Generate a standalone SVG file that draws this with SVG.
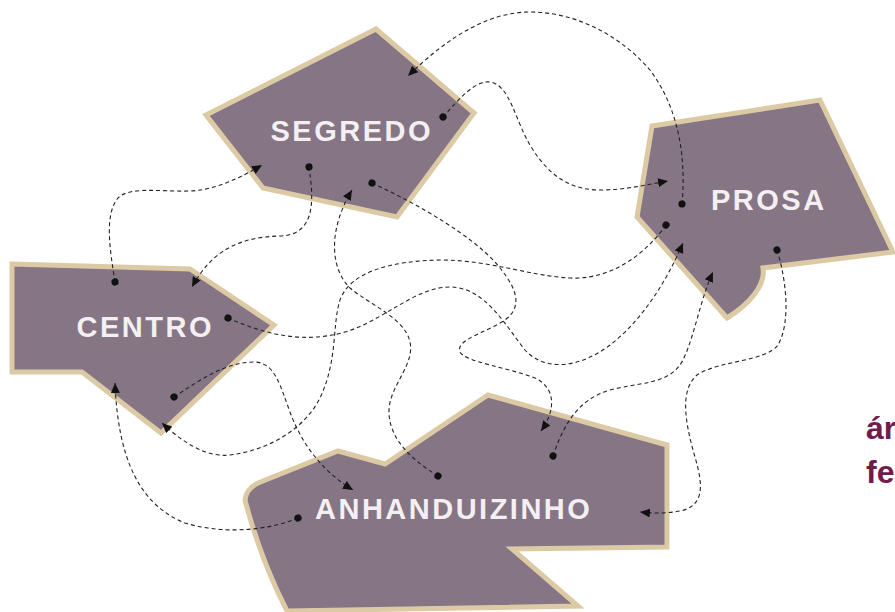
<svg xmlns="http://www.w3.org/2000/svg" width="895" height="612" viewBox="0 0 895 612">
<defs>
<style>
.shape{fill:#857585;stroke:#dccaa5;stroke-width:5;stroke-linejoin:miter}
.lbl{font-family:"Liberation Sans",Arial,sans-serif;font-weight:bold;font-size:29px;letter-spacing:2.5px;fill:#f4f0f1}
.con{fill:none;stroke:#222;stroke-width:1.1;stroke-dasharray:4 3;marker-start:url(#dot);marker-end:url(#arr)}
.side{font-family:"Liberation Sans",Arial,sans-serif;font-weight:bold;font-size:32px;fill:#701c4c}
</style>
<marker id="arr" markerUnits="userSpaceOnUse" markerWidth="11" markerHeight="9" refX="10" refY="4.5" orient="auto" viewBox="0 0 11 9">
<path d="M0,0 L10,4.5 L0,9 Z" fill="#111"/>
</marker>
<marker id="dot" markerUnits="userSpaceOnUse" markerWidth="8" markerHeight="8" refX="4" refY="4" orient="auto" viewBox="0 0 8 8">
<circle cx="4" cy="4" r="3.6" fill="#111"/>
</marker>
</defs>
<rect width="895" height="612" fill="#ffffff"/>
<g id="segredo">
<path class="shape" d="M206,115 L376,29 L474,113 L397,217 L263,188 Z"/>
<text class="lbl" x="270.5" y="141">SEGREDO</text>
</g>
<g id="centro">
<path class="shape" d="M12,264 L190,269 L274,325 L161,433 L82,372 L12,372 Z"/>
<text class="lbl" x="76.5" y="337">CENTRO</text>
</g>
<g id="prosa">
<path class="shape" d="M652,126 L820,100 L893,252 L763,268 C766,286 748,305 727,318 L637,217 Z"/>
<text class="lbl" x="711" y="210">PROSA</text>
</g>
<g id="anhanduizinho">
<path class="shape" d="M245,500 Q246,489 258,483 L338,451 L385,464 L488,395 L667,445 L667,547 L512,549 L578,606 L287,611 Q260,558 245,500 Z"/>
<text class="lbl" x="315" y="519">ANHANDUIZINHO</text>
</g>
<g id="connectors">
<path class="con" d="M443,117 C458,100 475,80 490,82 C510,85 515,120 530,145 C545,170 565,190 600,190 C625,190 645,185 668,181"/>
<path class="con" d="M682,204 C686,160 680,110 650,70 C620,35 575,12 530,12 C490,12 450,35 408,76"/>
<path class="con" d="M309,167 C313,195 318,235 280,236 C240,237 212,250 192,287"/>
<path class="con" d="M115,282 C110,250 104,215 118,198 C130,186 160,192 190,191 C215,190 240,178 262,165"/>
<path class="con" d="M372,183 C420,205 470,235 495,262 C515,285 525,305 505,320 C485,333 455,340 460,352 C465,362 510,368 535,378 C556,388 556,410 541,431"/>
<path class="con" d="M228,318 C260,332 300,345 345,332 C385,320 415,287 450,287 C485,287 505,325 525,350 C545,372 580,368 610,345 C640,322 665,285 683,243"/>
<path class="con" d="M666,225 C645,255 610,280 570,278 C530,276 490,260 440,260 C390,261 350,272 340,300 C332,325 338,360 320,398 C305,428 270,450 230,455 C205,458 180,440 162,423"/>
<path class="con" d="M438,476 C415,462 388,440 389,410 C390,385 415,365 410,342 C405,318 370,305 350,288 C330,268 328,230 352,190"/>
<path class="con" d="M174,397 C200,380 225,362 255,362 C275,363 280,385 290,412 C300,440 320,470 353,490"/>
<path class="con" d="M298,518 C270,530 225,535 185,523 C140,505 118,460 115,383"/>
<path class="con" d="M553,456 C562,430 575,400 610,390 C640,382 670,385 683,360 C695,335 700,300 713,272"/>
<path class="con" d="M777,250 C785,275 792,320 778,345 C765,362 720,360 697,375 C680,390 685,420 693,450 C700,475 710,505 680,511 C665,514 650,513 640,512"/>
</g>
<text class="side" x="866" y="439">ár</text>
<text class="side" x="866" y="483">fe</text>
</svg>
